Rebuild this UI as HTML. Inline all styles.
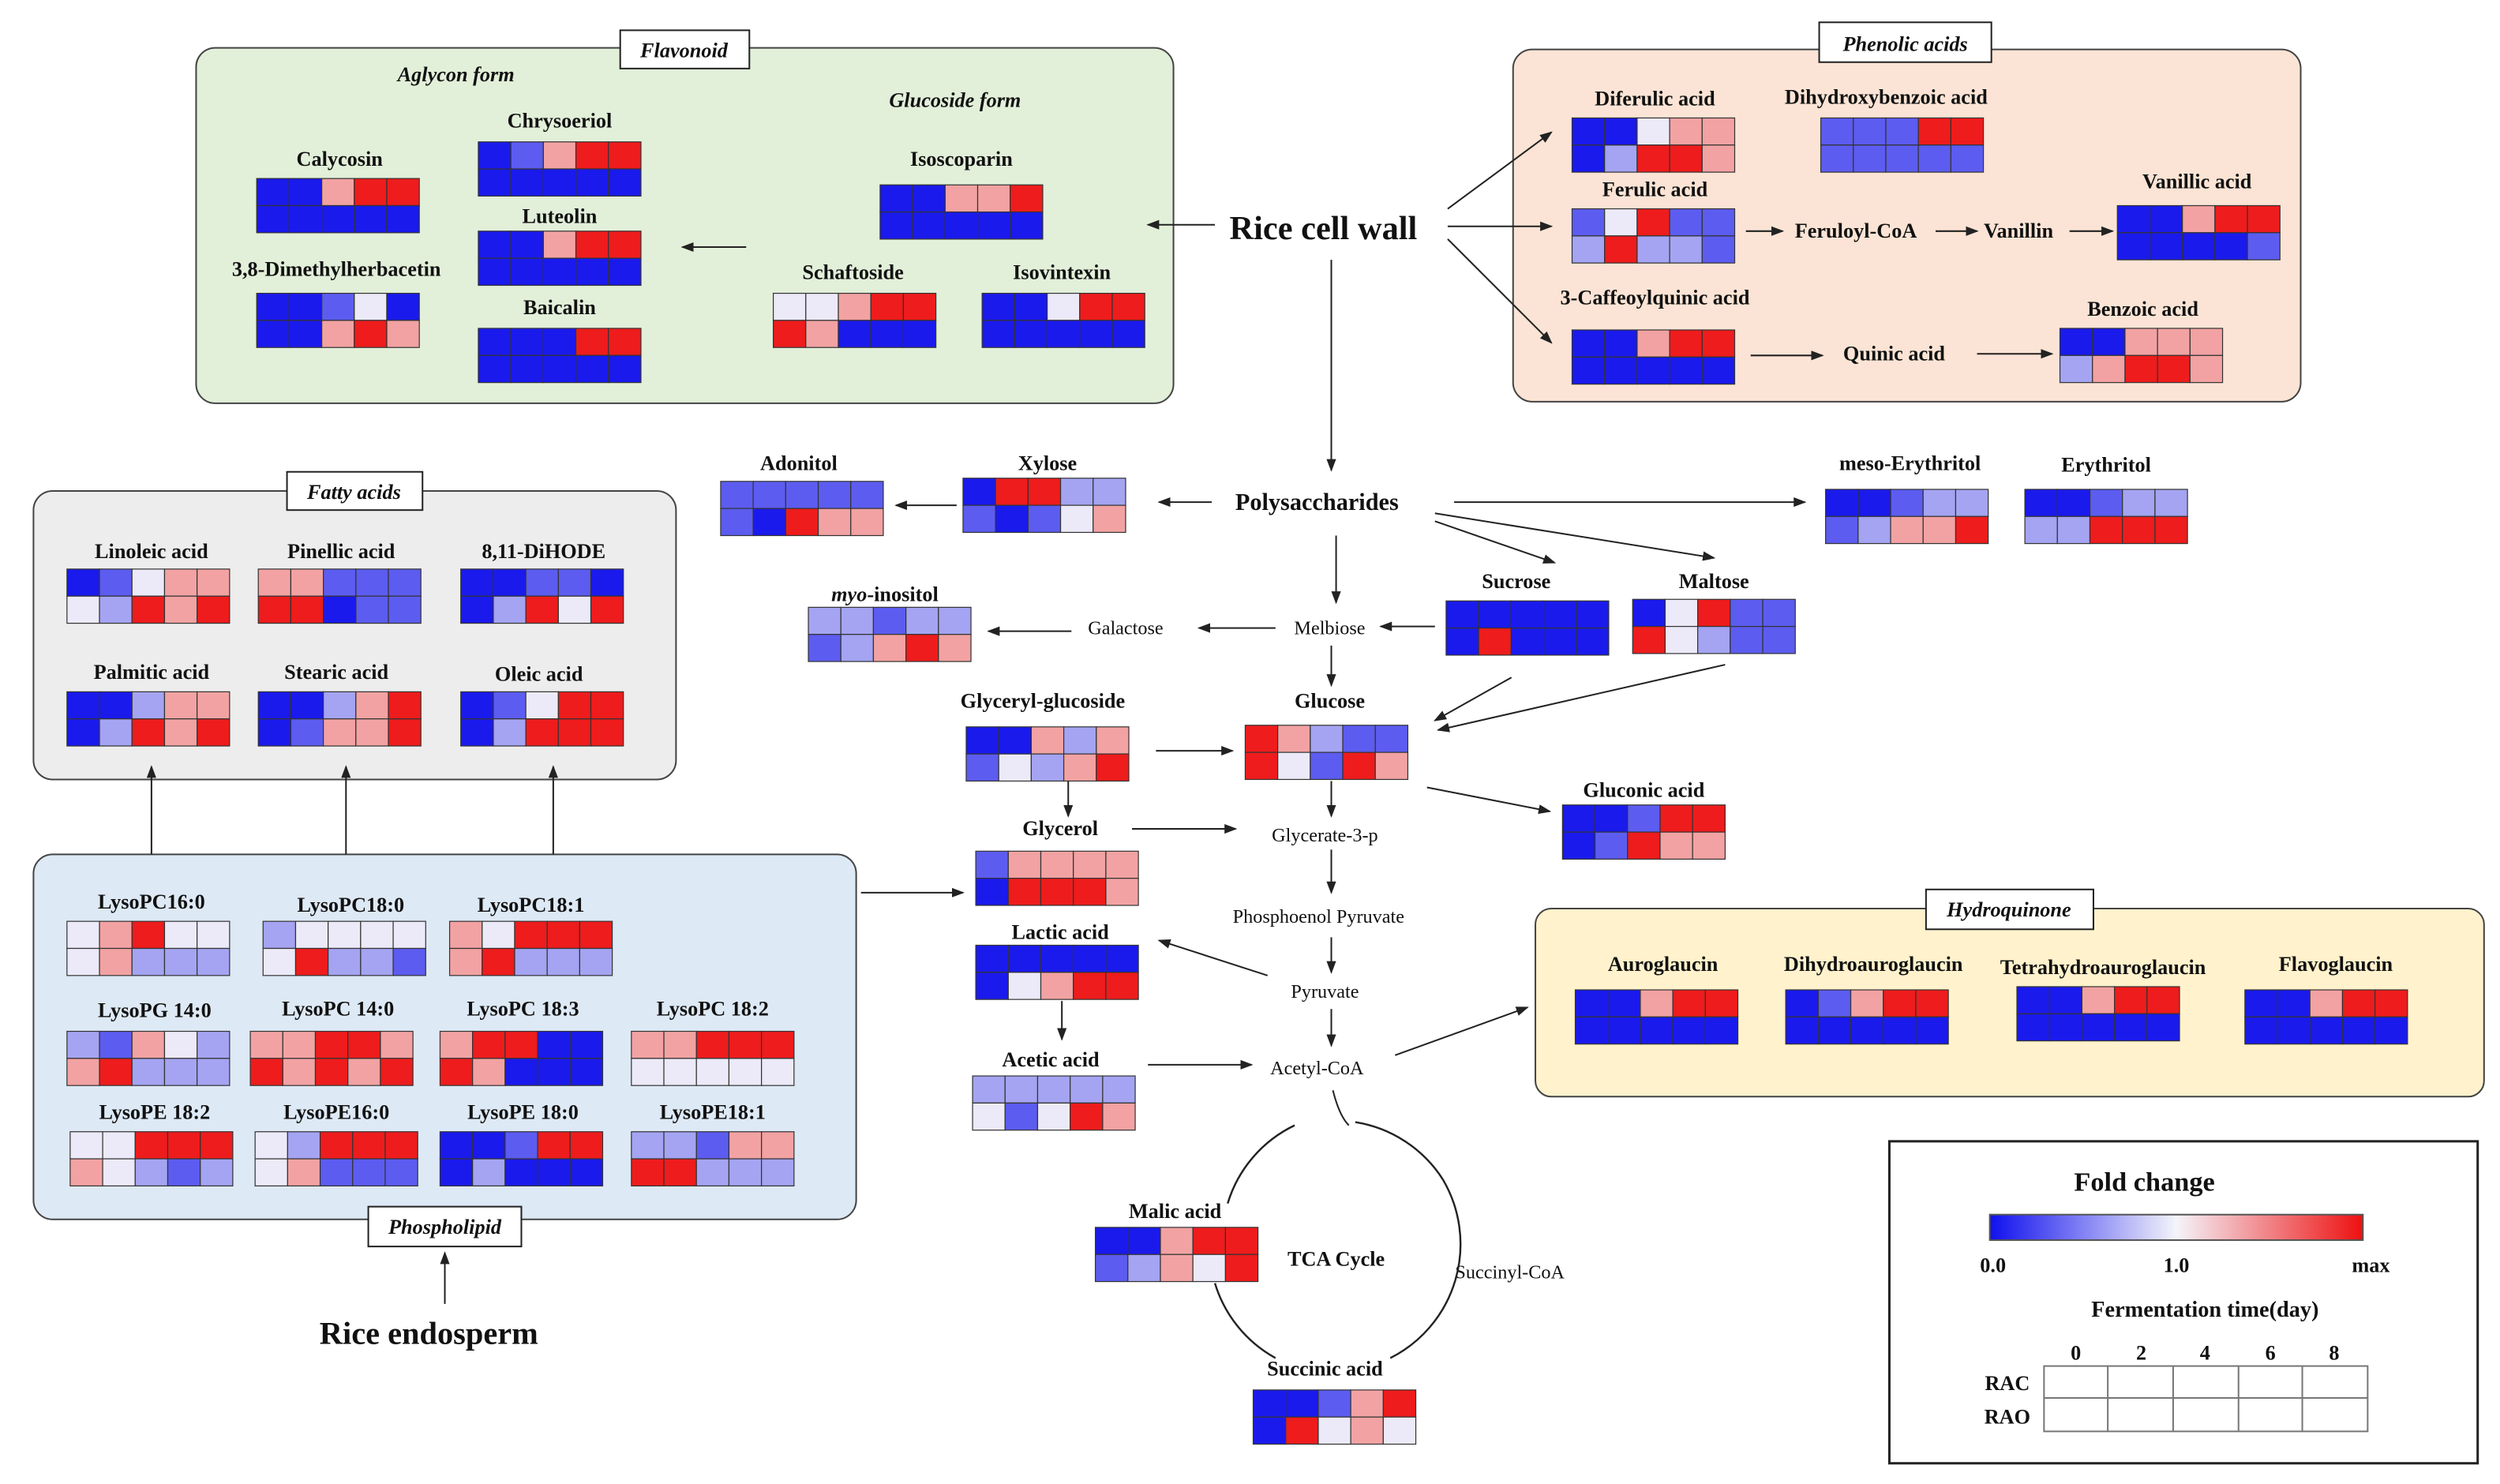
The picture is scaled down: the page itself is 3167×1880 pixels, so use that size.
<!DOCTYPE html>
<html><head><meta charset="utf-8"><style>
html,body{margin:0;padding:0;background:#fff}
svg{display:block}
text{font-family:"Liberation Serif",serif;fill:#111}
.l{font-weight:bold;font-size:13px;text-anchor:middle}
.n{font-size:12px;text-anchor:middle}
.t{font-weight:bold;font-style:italic;font-size:13px;text-anchor:middle}
.a{stroke:#222;stroke-width:1;fill:none;marker-end:url(#ah)}
</style></head><body>
<svg width="3167" height="1880" viewBox="0 0 1568 931" preserveAspectRatio="none" xmlns="http://www.w3.org/2000/svg">
<defs><marker id="ah" markerWidth="8" markerHeight="8" refX="7" refY="4" orient="auto" markerUnits="userSpaceOnUse"><path d="M0,1 L8,4 L0,7 z" fill="#222"/></marker>
<linearGradient id="g"><stop offset="0" stop-color="#1010ee"/><stop offset="0.5" stop-color="#f4f4fa"/><stop offset="1" stop-color="#ee1010"/></linearGradient></defs>
<rect width="1568" height="931" fill="#fff"/>
<!-- boxes -->
<rect x="123" y="30" width="613" height="223" rx="12" fill="#e2efd9" stroke="#444"/>
<rect x="949" y="31" width="494" height="221" rx="12" fill="#fbe4d5" stroke="#444"/>
<rect x="21" y="308" width="403" height="181" rx="12" fill="#ededed" stroke="#444"/>
<rect x="21" y="536" width="516" height="229" rx="12" fill="#dde9f5" stroke="#444"/>
<rect x="963" y="570" width="595" height="118" rx="10" fill="#fff2cc" stroke="#444"/>
<rect x="1185" y="716" width="369" height="202" fill="#fff" stroke="#222" stroke-width="1.5"/>
<g fill="#fff" stroke="#222">
<rect x="389" y="19" width="81" height="24"/><rect x="1141" y="14" width="108" height="25"/>
<rect x="180" y="296" width="85" height="24"/><rect x="231" y="757" width="96" height="25"/>
<rect x="1208" y="558" width="105" height="25"/></g>
<text class="t" x="429" y="36">Flavonoid</text><text class="t" x="1195" y="32">Phenolic acids</text>
<text class="t" x="222" y="313">Fatty acids</text><text class="t" x="279" y="774">Phospholipid</text>
<text class="t" x="1260" y="575">Hydroquinone</text>
<text class="t" x="286" y="51">Aglycon form</text><text class="t" x="599" y="67">Glucoside form</text>
<g id="hm"></g>
<!-- labels -->
<g class="l">
<text class="l" x="213" y="104">Calycosin</text><text class="l" x="351" y="80">Chrysoeriol</text><text class="l" x="351" y="140">Luteolin</text><text class="l" x="351" y="197">Baicalin</text><text class="l" x="211" y="173">3,8-Dimethylherbacetin</text><text class="l" x="603" y="104">Isoscoparin</text><text class="l" x="535" y="175">Schaftoside</text><text class="l" x="666" y="175">Isovintexin</text>
<text class="l" x="1038" y="66">Diferulic acid</text><text class="l" x="1183" y="65">Dihydroxybenzoic acid</text><text class="l" x="1038" y="123">Ferulic acid</text><text class="l" x="1378" y="118">Vanillic acid</text><text class="l" x="1038" y="191">3-Caffeoylquinic acid</text><text class="l" x="1344" y="198">Benzoic acid</text>
<text class="l" x="95" y="350">Linoleic acid</text><text class="l" x="214" y="350">Pinellic acid</text><text class="l" x="341" y="350">8,11-DiHODE</text><text class="l" x="95" y="426">Palmitic acid</text><text class="l" x="211" y="426">Stearic acid</text><text class="l" x="338" y="427">Oleic acid</text>
<text class="l" x="95" y="570">LysoPC16:0</text><text class="l" x="220" y="572">LysoPC18:0</text><text class="l" x="333" y="572">LysoPC18:1</text><text class="l" x="97" y="638">LysoPG 14:0</text><text class="l" x="212" y="637">LysoPC 14:0</text><text class="l" x="328" y="637">LysoPC 18:3</text><text class="l" x="447" y="637">LysoPC 18:2</text><text class="l" x="97" y="702">LysoPE 18:2</text><text class="l" x="211" y="702">LysoPE16:0</text><text class="l" x="328" y="702">LysoPE 18:0</text><text class="l" x="447" y="702">LysoPE18:1</text>
<text class="l" x="501" y="295">Adonitol</text><text class="l" x="657" y="295">Xylose</text><text class="l" x="555" y="377"><tspan font-style="italic">myo</tspan>-inositol</text><text class="l" x="951" y="369">Sucrose</text><text class="l" x="1075" y="369">Maltose</text><text class="l" x="1198" y="295">meso-Erythritol</text><text class="l" x="1321" y="296">Erythritol</text><text class="l" x="654" y="444">Glyceryl-glucoside</text><text class="l" x="834" y="444">Glucose</text><text class="l" x="1031" y="500">Gluconic acid</text><text class="l" x="665" y="524">Glycerol</text><text class="l" x="665" y="589">Lactic acid</text><text class="l" x="659" y="669">Acetic acid</text><text class="l" x="737" y="764">Malic acid</text><text class="l" x="831" y="863">Succinic acid</text>
<text class="l" x="1043" y="609">Auroglaucin</text><text class="l" x="1175" y="609">Dihydroauroglaucin</text><text class="l" x="1319" y="611">Tetrahydroauroglaucin</text><text class="l" x="1465" y="609">Flavoglaucin</text>
<text class="l" x="1164" y="149">Feruloyl-CoA</text><text class="l" x="1266" y="149">Vanillin</text><text class="l" x="1188" y="226">Quinic acid</text>
<text class="l" x="826" y="320" style="font-size:15px">Polysaccharides</text><text class="l" x="838" y="794">TCA Cycle</text>
</g>
<text class="l" x="830" y="150" style="font-size:21px">Rice cell wall</text>
<text class="l" x="269" y="843" style="font-size:20px">Rice endosperm</text>
<g class="n"><text class="n" x="834" y="398">Melbiose</text><text class="n" x="706" y="398">Galactose</text><text class="n" x="831" y="528">Glycerate-3-p</text><text class="n" x="827" y="579">Phosphoenol Pyruvate</text><text class="n" x="831" y="626">Pyruvate</text><text class="n" x="826" y="674">Acetyl-CoA</text><text class="n" x="947" y="802">Succinyl-CoA</text></g>
<!-- TCA -->
<path d="M812,706 A80,80 0 0 0 770,755 M762,805 A80,80 0 0 0 800,852 M872,852 A80,80 0 0 0 905,740 M905,740 A80,80 0 0 0 850,704" fill="none" stroke="#222" stroke-width="1.2"/>
<path d="M836,684 Q840,700 846,706" fill="none" stroke="#222"/>
<!-- arrows -->
<g class="a">
<line x1="762" y1="141" x2="720" y2="141"/><line x1="468" y1="155" x2="428" y2="155"/>
<line x1="908" y1="131" x2="973" y2="83"/><line x1="908" y1="142" x2="973" y2="142"/><line x1="908" y1="150" x2="973" y2="215"/>
<line x1="1095" y1="145" x2="1118" y2="145"/><line x1="1214" y1="145" x2="1240" y2="145"/><line x1="1298" y1="145" x2="1325" y2="145"/>
<line x1="1098" y1="223" x2="1143" y2="223"/><line x1="1240" y1="222" x2="1287" y2="222"/>
<line x1="835" y1="163" x2="835" y2="295"/><line x1="760" y1="315" x2="727" y2="315"/><line x1="600" y1="317" x2="562" y2="317"/>
<line x1="912" y1="315" x2="1132" y2="315"/><line x1="900" y1="322" x2="1075" y2="350"/><line x1="900" y1="327" x2="975" y2="353"/>
<line x1="838" y1="336" x2="838" y2="378"/><line x1="900" y1="393" x2="866" y2="393"/><line x1="800" y1="394" x2="752" y2="394"/><line x1="672" y1="396" x2="620" y2="396"/>
<line x1="835" y1="405" x2="835" y2="430"/><line x1="948" y1="425" x2="900" y2="452"/><line x1="1082" y1="417" x2="902" y2="458"/>
<line x1="725" y1="471" x2="773" y2="471"/><line x1="835" y1="490" x2="835" y2="512"/><line x1="895" y1="494" x2="972" y2="509"/>
<line x1="670" y1="490" x2="670" y2="512"/><line x1="710" y1="520" x2="775" y2="520"/><line x1="835" y1="533" x2="835" y2="560"/>
<line x1="835" y1="588" x2="835" y2="610"/><line x1="795" y1="612" x2="727" y2="590"/><line x1="666" y1="628" x2="666" y2="652"/>
<line x1="720" y1="668" x2="785" y2="668"/><line x1="835" y1="633" x2="835" y2="656"/><line x1="875" y1="662" x2="958" y2="632"/>
<line x1="540" y1="560" x2="604" y2="560"/><line x1="95" y1="536" x2="95" y2="481"/><line x1="217" y1="536" x2="217" y2="481"/><line x1="347" y1="536" x2="347" y2="481"/>
<line x1="279" y1="818" x2="279" y2="786"/>
</g>
<!-- legend -->
<text class="l" x="1345" y="747" style="font-size:17px">Fold change</text>
<rect x="1248" y="762" width="234" height="16" fill="url(#g)" stroke="#555"/>
<text class="l" x="1250" y="798">0.0</text><text class="l" x="1365" y="798">1.0</text><text class="l" x="1487" y="798">max</text>
<text class="l" x="1383" y="826" style="font-size:14px">Fermentation time(day)</text>
<text class="l" x="1302" y="853">0</text><text class="l" x="1343" y="853">2</text><text class="l" x="1383" y="853">4</text><text class="l" x="1424" y="853">6</text><text class="l" x="1464" y="853">8</text>
<g stroke="#777" fill="none"><rect x="1282" y="857" width="203" height="41"/><line x1="1282" y1="877" x2="1485" y2="877"/><line x1="1322" y1="857" x2="1322" y2="898"/><line x1="1363" y1="857" x2="1363" y2="898"/><line x1="1404" y1="857" x2="1404" y2="898"/><line x1="1444" y1="857" x2="1444" y2="898"/></g>
<text class="l" x="1259" y="872">RAC</text><text class="l" x="1259" y="893">RAO</text>
</svg>
<script>
var C={B:"#1a1aec",m:"#5c5cf0",b:"#a4a4f2",w:"#eceaf8",p:"#f2a2a2",r:"#ee1c1c"};
var H=[[161,112,"BBprr","BBBBB"],[300,89,"Bmprr","BBBBB"],[300,145,"BBprr","BBBBB"],[300,206,"BBBrr","BBBBB"],[161,184,"BBmwB","BBprp"],[552,116,"BBppr","BBBBB"],[485,184,"wwprr","rpBBB"],[616,184,"BBwrr","BBBBB"],
[986,74,"BBwpp","Bbrrp"],[1142,74,"mmmrr","mmmmm"],[986,131,"mwrmm","brbbm"],[1328,129,"BBprr","BBBBm"],[986,207,"BBprr","BBBBB"],[1292,206,"BBppp","bprrp"],
[42,357,"Bmwpp","wbrpr"],[162,357,"ppmmm","rrBmm"],[289,357,"BBmmB","Bbrwr"],[42,434,"BBbpp","Bbrpr"],[162,434,"BBbpr","Bmppr"],[289,434,"Bmwrr","Bbrrr"],
[42,578,"wprww","wpbbb"],[165,578,"bwwww","wrbbm"],[282,578,"pwrrr","prbbb"],[42,647,"bmpwb","prbbb"],[157,647,"pprrp","rprpr"],[276,647,"prrBB","rpBBB"],[396,647,"pprrr","wwwww"],[44,710,"wwrrr","pwbmb"],[160,710,"wbrrr","wpmmm"],[276,710,"BBmrr","BbBBB"],[396,710,"bbmpp","rrbbb"],
[452,302,"mmmmm","mBrpp"],[604,300,"Brrbb","mBmwp"],[507,381,"bbmbb","mbprp"],[907,377,"BBBBB","BrBBB"],[1024,376,"Bwrmm","rwbmm"],[1145,307,"BBmbb","mbppr"],[1270,307,"BBmbb","bbrrr"],
[606,456,"BBpbp","mwbpr"],[781,455,"rpbmm","rwmrp"],[980,505,"BBmrr","Bmrpp"],[612,534,"mpppp","Brrrp"],[612,593,"BBBBB","Bwprr"],[610,675,"bbbbb","wmwrp"],[687,770,"BBprr","mbpwr"],[786,872,"BBmpr","Brwpw"],
[988,621,"BBprr","BBBBB"],[1120,621,"Bmprr","BBBBB"],[1265,619,"BBprr","BBBBB"],[1408,621,"BBprr","BBBBB"]];
var g=document.getElementById("hm"),s="";
H.forEach(function(h){for(var r=0;r<2;r++)for(var c=0;c<5;c++){s+='<rect x="'+(h[0]+c*20.4)+'" y="'+(h[1]+r*17)+'" width="20.4" height="17" fill="'+C[h[2+r][c]]+'" stroke="#333" stroke-width="0.6"/>';}});
g.innerHTML=s;
</script>
</body></html>
